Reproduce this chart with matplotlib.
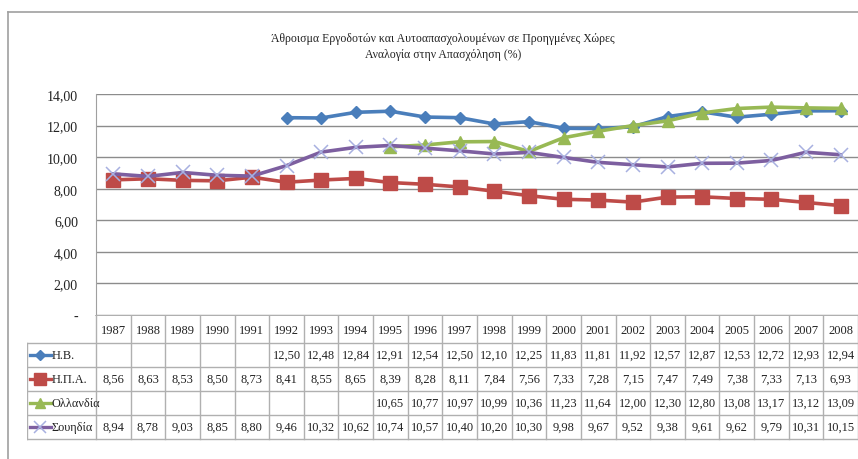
import numpy as np
import matplotlib
matplotlib.use("Agg")
import matplotlib.pyplot as plt
from matplotlib.lines import Line2D
from matplotlib.ticker import FuncFormatter

years = [str(y) for y in range(1987, 2009)]
series_names = ["Η.Β.", "Η.Π.Α.", "Ολλανδία", "Σουηδία"]
hb = [None, None, None, None, None, 12.50, 12.48, 12.84, 12.91, 12.54, 12.50,
      12.10, 12.25, 11.83, 11.81, 11.92, 12.57, 12.87, 12.53, 12.72, 12.93, 12.94]
hpa = [8.56, 8.63, 8.53, 8.50, 8.73, 8.41, 8.55, 8.65, 8.39, 8.28, 8.11,
       7.84, 7.56, 7.33, 7.28, 7.15, 7.47, 7.49, 7.38, 7.33, 7.13, 6.93]
nl = [None] * 8 + [10.65, 10.77, 10.97, 10.99, 10.36, 11.23, 11.64, 12.00,
                   12.30, 12.80, 13.08, 13.17, 13.12, 13.09]
se = [8.94, 8.78, 9.03, 8.85, 8.80, 9.46, 10.32, 10.62, 10.74, 10.57, 10.40,
      10.20, 10.30, 9.98, 9.67, 9.52, 9.38, 9.61, 9.62, 9.79, 10.31, 10.15]
yticks = [0, 2, 4, 6, 8, 10, 12, 14]

title = ("Άθροισμα Εργοδοτών και Αυτοαπασχολουμένων σε Προηγμένες Χώρες\n"
         "Αναλογία στην Απασχόληση (%)")

plt.rcParams['font.family'] = ['Liberation Serif', 'DejaVu Serif']

W, H = 858, 460
fig = plt.figure(figsize=(W / 100, H / 100), dpi=100)
fig.patch.set_facecolor('white')


def px_axes(x0, y0, x1, y1):
    return fig.add_axes([x0 / W, 1 - y1 / H, (x1 - x0) / W, (y1 - y0) / H])


styles = [
    dict(color='#4a7ebb', marker='D', ms=6, mfc='#4a7ebb', mec='#4a7ebb'),
    dict(color='#be4b48', marker='s', ms=10, mfc='#be4b48', mec='#be4b48'),
    dict(color='#98b954', marker='^', ms=9, mfc='#98b954', mec='#98b954'),
    dict(color='#7d5fa0', marker='x', ms=10, mfc='none', mec='#a8b0e0', mew=1.1),
]
data = [hb, hpa, nl, se]

# frame around the chart
grey = '#a0a0a0'
fig.add_artist(Line2D([8 / W, 8 / W], [1 - 13 / H, 0], color=grey, lw=1.2))
fig.add_artist(Line2D([8 / W, 1], [1 - 13 / H, 1 - 13 / H], color=grey, lw=1.2))

fig.text(443 / W, 1 - 47 / H, title, ha='center', va='center',
         fontsize=8.5, linespacing=1.35, color='#222222')

# plot area
left, top, right, bottom = 96, 95, 858, 316
ax = px_axes(left, top, right, bottom)
x = np.arange(len(years))
for vals, st in zip(data, styles):
    y = np.array([np.nan if v is None else v for v in vals], dtype=float)
    ax.plot(x, y, lw=2.6, solid_joinstyle='round', zorder=3, **st)

ax.set_xlim(-0.5, len(years) - 0.5)
ax.set_ylim(0, 14)
ax.set_yticks(yticks)
ax.yaxis.set_major_formatter(
    FuncFormatter(lambda v, p: '-' if v == 0 else f"{v:.2f}".replace('.', ',')))
ax.set_xticks([])
ax.tick_params(axis='y', length=0, pad=13, labelsize=10, labelcolor='#222222')
ax.grid(axis='y', color='#8c8c8c', lw=1)
ax.set_axisbelow(True)
for s in ['top', 'right', 'bottom']:
    ax.spines[s].set_visible(False)
ax.spines['left'].set_color(grey)

# data table under the plot
col_w = (right - left) / len(years)
leg_left = 27
tab = px_axes(leg_left, bottom, right, 442)
x_leg = -0.5 - (left - leg_left) / col_w
tab.set_xlim(x_leg, len(years) - 0.5)
tab.set_ylim(126, 0)
tab.axis('off')
rows = [0, 28, 52, 76, 100, 124]
tc = '#b0b0b0'
tab.plot([-0.5, len(years) - 0.5], [0, 0], color=grey, lw=1.2)
for yy in rows[1:]:
    tab.plot([x_leg, len(years) - 0.5], [yy, yy], color=tc, lw=1)
for k in range(len(years) + 1):
    tab.plot([k - 0.5, k - 0.5], [0, rows[-1]], color=tc, lw=1)
tab.plot([x_leg, x_leg], [rows[1], rows[-1]], color=tc, lw=1)

for i, yr in enumerate(years):
    tab.text(i, (rows[0] + rows[1]) / 2 + 1, yr, ha='center', va='center',
             fontsize=9, color='#222222')
for r, (name, vals, st) in enumerate(zip(series_names, data, styles)):
    yc = (rows[r + 1] + rows[r + 2]) / 2
    key_x = [x_leg + 0.08, x_leg + 0.68]
    tab.plot(key_x, [yc, yc], color=st['color'], lw=2.4)
    tab.plot([np.mean(key_x)], [yc], marker=st['marker'], ms=st['ms'] * 0.8,
             mfc=st['mfc'], mec=st['mec'], mew=st.get('mew', 1), color=st['color'])
    tab.text(x_leg + 0.7, yc, name, ha='left', va='center', fontsize=8.8,
             color='#222222')
    for i, v in enumerate(vals):
        if v is not None:
            tab.text(i, yc, f"{v:.2f}".replace('.', ','), ha='center',
                     va='center', fontsize=9, color='#222222')

fig.savefig('out.png', dpi=100, facecolor='white')
